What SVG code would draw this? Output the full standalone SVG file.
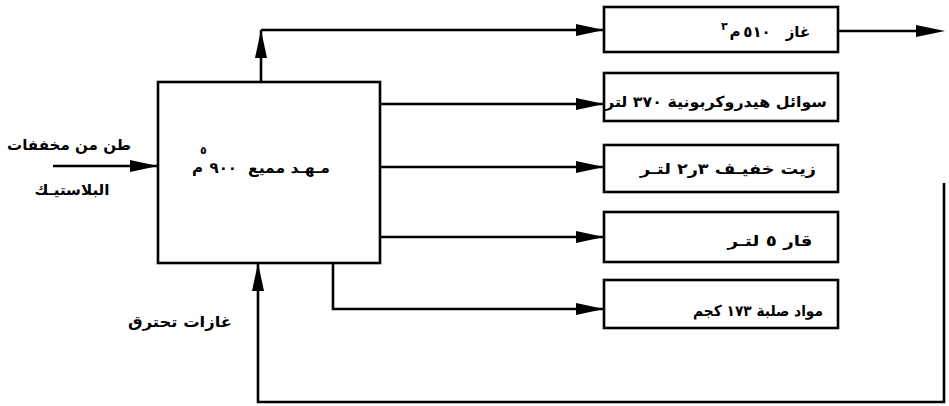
<svg xmlns="http://www.w3.org/2000/svg" width="949" height="406" viewBox="0 0 949 406">
<style>
.box{fill:#fff;stroke:#000;stroke-width:2.6}
.ln{fill:none;stroke:#000;stroke-width:2.6}
.head{fill:#000}
.t{font-family:"DejaVu Sans",sans-serif;font-weight:bold;font-size:15px;fill:#000}
.s{font-family:"DejaVu Sans",sans-serif;font-weight:bold;font-size:11px;fill:#000}
</style>
<defs>
<marker id="ah" markerUnits="userSpaceOnUse" markerWidth="30" markerHeight="14" refX="28" refY="7" orient="auto" overflow="visible">
<path d="M0,1 L28,7 L0,13 z" fill="#000"/>
</marker>
</defs>
<rect width="949" height="406" fill="#fff"/>
<g id="connectors">
<path class="ln" d="M261 82 V30" marker-end="url(#ah)"/>
<path class="ln" d="M261 30 H604" marker-end="url(#ah)"/>
<path class="ln" d="M838 31 H920"/>
<polygon class="head" points="916,25 945,31 916,37"/>
<path class="ln" d="M380 104 H604" marker-end="url(#ah)"/>
<path class="ln" d="M380 167 H604" marker-end="url(#ah)"/>
<path class="ln" d="M380 237 H604" marker-end="url(#ah)"/>
<path class="ln" d="M333 263 V309 H604" marker-end="url(#ah)"/>
<path class="ln" d="M944 183 V402 H258 V263" marker-end="url(#ah)"/>
<path class="ln" d="M53 166 H158" marker-end="url(#ah)"/>
</g>
<g id="reactor">
<rect class="box" x="158" y="82" width="222" height="181"/>
<text class="t" x="289" y="173" text-anchor="middle" direction="rtl" textLength="82" lengthAdjust="spacingAndGlyphs">مـهـد  مميع</text>
<text class="t" x="237" y="173" text-anchor="end">٩٠٠</text>
<text class="t" x="203" y="173" text-anchor="end">م</text>
<text class="s" x="200" y="154">٥</text>
</g>
<g id="gas">
<rect class="box" x="604" y="7" width="234" height="45"/>
<text class="t" x="798" y="37" text-anchor="middle" direction="rtl">غاز</text>
<text class="t" x="757" y="37" text-anchor="middle">٥١٠</text>
<text class="t" x="735" y="37" text-anchor="middle">م</text>
<text class="s" x="721" y="30">٣</text>
</g>
<g id="liquids">
<rect class="box" x="604" y="73" width="234" height="48"/>
<text class="t" x="716" y="107" text-anchor="middle" direction="rtl" textLength="222" lengthAdjust="spacingAndGlyphs">سوائل هيدروكربونية ٣٧٠ لتر</text>
</g>
<g id="lightoil">
<rect class="box" x="604" y="145" width="234" height="47"/>
<text class="t" x="728" y="174" text-anchor="middle" direction="rtl" textLength="176" lengthAdjust="spacingAndGlyphs">زيت خفيـف  ٣ر٢ لتـر</text>
</g>
<g id="tar">
<rect class="box" x="604" y="212" width="234" height="50"/>
<text class="t" x="770" y="246" text-anchor="middle" direction="rtl" textLength="85" lengthAdjust="spacingAndGlyphs">قار  ٥  لتـر</text>
</g>
<g id="solids">
<rect class="box" x="604" y="280" width="234" height="48"/>
<text class="t" x="758" y="316" text-anchor="middle" direction="rtl" textLength="130" lengthAdjust="spacingAndGlyphs">مواد  صلبة  ١٧٣  كجم</text>
</g>
<g id="input-label">
<text class="t" x="69" y="150" text-anchor="middle" direction="rtl" textLength="124" lengthAdjust="spacingAndGlyphs">طن من مخففات</text>
<text class="t" x="72" y="195" text-anchor="middle" direction="rtl" textLength="75" lengthAdjust="spacingAndGlyphs">البلاستيـك</text>
</g>
<g id="flue-label">
<text class="t" x="180" y="327" text-anchor="middle" direction="rtl" textLength="104" lengthAdjust="spacingAndGlyphs">غازات  تحترق</text>
</g>
</svg>
